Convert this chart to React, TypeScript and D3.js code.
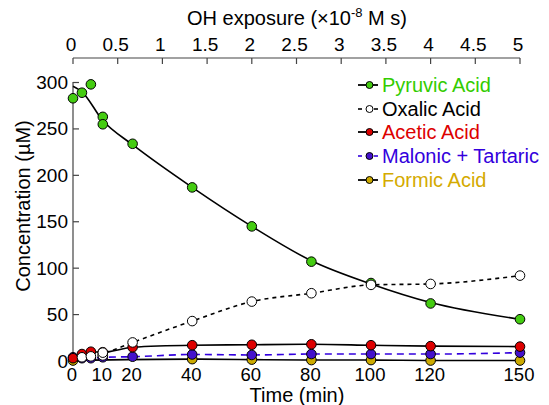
import React from "react";
import * as d3 from "d3";

// time axis (min) and OH exposure axis (x10^-8 M s)
const timeTicks = [0, 10, 20, 40, 60, 80, 100, 120, 150];
const exposureTicks = [0, 0.5, 1, 1.5, 2, 2.5, 3, 3.5, 4, 4.5, 5];
const concTicks = [0, 50, 100, 150, 200, 250, 300];

// measured points
const pyruvicTime = [0, 3, 6, 10, 10, 20, 40, 60, 80, 100, 120, 150];
const pyruvic = [283, 289, 298, 263, 255, 234, 187, 145, 107, 84, 62, 45];
const pyruvicFitTime = [0, 3, 10, 20, 40, 60, 80, 100, 120, 150];
const pyruvicFit = [296, 290, 259, 233, 187, 145, 108, 83, 63, 45];

const oxalicTime = [3, 6, 10, 10, 20, 40, 60, 80, 100, 120, 150];
const oxalic = [4, 5, 6, 9, 20, 43, 64, 73, 82, 83, 92];
const oxalicLineTime = [3, 6, 10, 20, 40, 60, 80, 100, 120, 150];
const oxalicLine = [4, 5, 8, 20, 43, 64, 73, 82, 83, 92];

const aceticTime = [0, 3, 6, 10, 20, 40, 60, 80, 100, 120, 150];
const acetic = [3, 7.5, 10, 9.5, 14.8, 17, 17.5, 18, 17, 16, 15.5];

const malonicTime = [0, 3, 6, 10, 20, 40, 60, 80, 100, 120, 150];
const malonic = [4, 3, 3, 4, 4.6, 7, 6.5, 7.5, 7.5, 7.5, 9];

const formicTime = [0, 40, 60, 80, 100, 120, 150];
const formic = [0.5, 2, 1.5, 1, 1, 0.5, 0.5];

const W = 549;
const H = 405;
const FONT = "'Liberation Sans', Arial, Helvetica, sans-serif";

const x = d3.scaleLinear().domain([0, 150]).range([73, 520]);
const xTop = d3.scaleLinear().domain([0, 5]).range([73, 520]);
const y = d3.scaleLinear().domain([0, 300]).range([361, 82.5]);

const zip = (t: number[], v: number[]) => t.map((d, i) => [d, v[i]] as [number, number]);

const line = d3
  .line<[number, number]>()
  .x((d) => x(d[0]))
  .y((d) => y(d[1]))
  .curve(d3.curveMonotoneX);

const series = [
  { name: "Pyruvic Acid", fill: "#44cc11", text: "#33cc00", stroke: "#000", dash: "", pts: zip(pyruvicTime, pyruvic), ln: zip(pyruvicFitTime, pyruvicFit) },
  { name: "Oxalic Acid", fill: "#ffffff", text: "#000000", stroke: "#000", dash: "4,4", pts: zip(oxalicTime, oxalic), ln: zip(oxalicLineTime, oxalicLine) },
  { name: "Acetic Acid", fill: "#dd0000", text: "#dd0000", stroke: "#000", dash: "", pts: zip(aceticTime, acetic), ln: zip(aceticTime, acetic) },
  { name: "Malonic + Tartaric", fill: "#4411cc", text: "#3300dd", stroke: "#3300dd", dash: "7,5", pts: zip(malonicTime, malonic), ln: zip(malonicTime, malonic) },
  { name: "Formic Acid", fill: "#ccaa00", text: "#d4aa00", stroke: "#000", dash: "", pts: zip(formicTime, formic), ln: zip(formicTime, formic) },
];

// drawing order of markers: pyruvic, formic, malonic, acetic, oxalic
const markerOrder = [0, 4, 3, 2, 1];

export default function App() {
  return (
    <svg
      width={W}
      height={H}
      style={{ position: "absolute", left: 0, top: 0, background: "#fff" }}
      fontFamily={FONT}
    >
      {/* top axis */}
      <text x={297} y={25} fontSize={20} textAnchor="middle">
        OH exposure (×10<tspan fontSize={13} dy={-8}>-8</tspan>
        <tspan dy={8}> M s)</tspan>
      </text>
      <line x1={73} x2={520} y1={58} y2={58} stroke="#444" strokeWidth={1.2} />
      {exposureTicks.map((t) => (
        <g key={"e" + t}>
          <line x1={xTop(t)} x2={xTop(t)} y1={58} y2={64} stroke="#444" strokeWidth={1.2} />
          <text x={xTop(t) - 2} y={51} fontSize={19} textAnchor="middle">
            {t}
          </text>
        </g>
      ))}

      {/* y axis */}
      <line x1={73} x2={73} y1={82} y2={361} stroke="#444" strokeWidth={1.2} />
      {concTicks.map((t) => (
        <g key={"c" + t}>
          <line x1={73} x2={79} y1={y(t)} y2={y(t)} stroke="#444" strokeWidth={1.2} />
          <text x={68} y={y(t) + 6.5} fontSize={19} textAnchor="end">
            {t}
          </text>
        </g>
      ))}
      <text transform="translate(30,206) rotate(-90)" fontSize={20} textAnchor="middle">
        Concentration (µM)
      </text>

      {/* bottom axis labels */}
      {timeTicks.map((t) => (
        <text key={"t" + t} x={x(t) - 1} y={381} fontSize={18.5} textAnchor="middle">
          {t}
        </text>
      ))}
      <text x={297} y={402} fontSize={20} textAnchor="middle">
        Time (min)
      </text>

      {/* lines */}
      {series.map((s) => (
        <path
          key={"l" + s.name}
          d={line(s.ln) || ""}
          fill="none"
          stroke={s.stroke}
          strokeWidth={1.6}
          strokeDasharray={s.dash}
        />
      ))}

      {/* markers */}
      {markerOrder.map((i) => {
        const s = series[i];
        return (
          <g key={"m" + s.name}>
            {s.pts.map((p, j) => (
              <circle key={j} cx={x(p[0])} cy={y(p[1])} r={4.8} fill={s.fill} stroke="#000" strokeWidth={1} />
            ))}
          </g>
        );
      })}

      {/* legend */}
      {series.map((s, i) => {
        const ly = [85, 109, 132, 156, 180][i];
        return (
          <g key={"lg" + s.name}>
            {s.dash ? (
              <>
                <line x1={358} x2={362} y1={ly} y2={ly} stroke={s.stroke} strokeWidth={1.6} />
                <line x1={374} x2={378} y1={ly} y2={ly} stroke={s.stroke} strokeWidth={1.6} />
              </>
            ) : (
              <line x1={358} x2={378} y1={ly} y2={ly} stroke={s.stroke} strokeWidth={1.8} />
            )}
            <circle cx={369.5} cy={ly} r={3.5} fill={s.fill} stroke="#000" strokeWidth={1} />
            <text x={382} y={ly + 7} fontSize={20} fill={s.text}>
              {s.name}
            </text>
          </g>
        );
      })}
    </svg>
  );
}
